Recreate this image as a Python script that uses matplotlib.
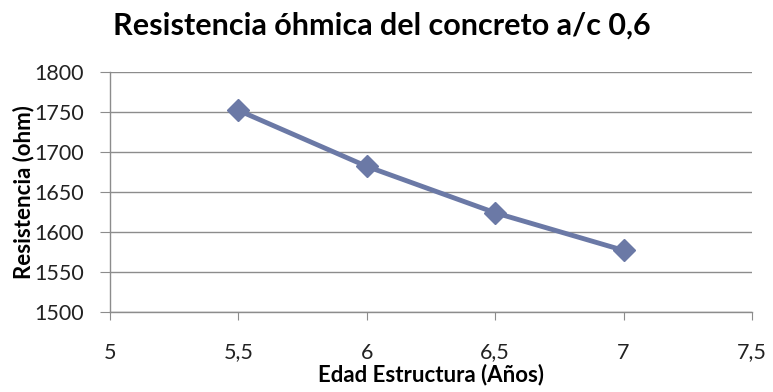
import matplotlib
matplotlib.use("Agg")
import matplotlib.pyplot as plt
from matplotlib.ticker import FuncFormatter

# Concrete w/c 0.6: ohmic resistance against structure age
edad = [5.5, 6.0, 6.5, 7.0]
resistencia = [1752, 1682, 1624, 1577]
x_ticks = [5, 5.5, 6, 6.5, 7, 7.5]
y_ticks = [1500, 1550, 1600, 1650, 1700, 1750, 1800]

plt.rcParams["font.family"] = ["Lato", "DejaVu Sans"]

fig = plt.figure(figsize=(7.73, 3.92), dpi=100)
ax = fig.add_axes([110 / 773, 1 - 312 / 392, (752 - 110) / 773, (312 - 72) / 392])

line_color = "#6B79A6"
ax.plot(edad, resistencia, color=line_color, lw=3.5, marker="D", ms=11,
        markeredgecolor=line_color, markerfacecolor=line_color, zorder=3)

ax.set_xlim(5, 7.5)
ax.set_ylim(1500, 1800)
ax.set_xticks(x_ticks)
ax.set_yticks(y_ticks)

comma = FuncFormatter(lambda v, _: f"{v:g}".replace(".", ","))
ax.xaxis.set_major_formatter(comma)

ax.grid(axis="y", color="#8C8C8C", lw=1)
ax.set_axisbelow(True)
for side in ("top", "right"):
    ax.spines[side].set_visible(False)
for side in ("left", "bottom"):
    ax.spines[side].set_color("#8C8C8C")
    ax.spines[side].set_linewidth(1)

ax.tick_params(axis="y", colors="#8C8C8C", length=7, labelsize=15.5,
               labelcolor="#222222", pad=12)
ax.tick_params(axis="x", colors="#8C8C8C", length=6, labelsize=15.5,
               labelcolor="#222222", pad=16)

# x label sits just under the tick labels, centred near x = 6.3
ax.set_xlabel("Edad Estructura (Años)", fontsize=16, fontweight="bold")
ax.xaxis.set_label_coords((431 - 110) / 642, -0.215)
ax.xaxis.label.set_va("top")
ax.set_ylabel("Resistencia (ohm)", fontsize=16, fontweight="bold")
ax.yaxis.set_label_coords(-0.118, 0.5)

fig.text(0.494, 0.935, "Resistencia óhmica del concreto a/c 0,6",
         ha="center", va="center", fontsize=22, fontweight="bold")

fig.savefig("out.png", dpi=100)
